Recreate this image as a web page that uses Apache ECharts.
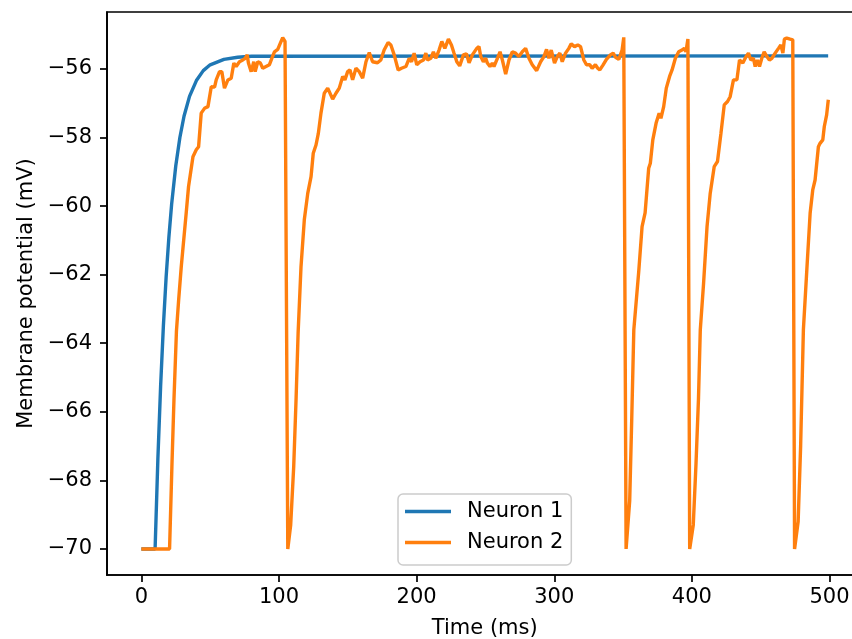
<!DOCTYPE html>
<html><head><meta charset="utf-8">
<script src="https://cdn.jsdelivr.net/npm/echarts@6/dist/echarts.min.js"></script>
<style>html,body{margin:0;padding:0;background:#fff}#c{width:852px;height:639px}</style>
</head><body><div id="c"></div>
<script>
const seriesNames = ['Neuron 1', 'Neuron 2'];
const xTicks = [0, 100, 200, 300, 400, 500];
const yTicks = [-70, -68, -66, -64, -62, -60, -58, -56];

const n1Time = [0, 10, 12, 14, 16, 18, 20, 22, 25, 28, 31, 35, 40, 45, 50, 60, 70, 80, 499];
const n1V = [-70, -70, -67.39, -65.26, -63.51, -62.08, -60.91, -59.95, -58.83, -58.00, -57.38, -56.80, -56.34, -56.05, -55.88, -55.72, -55.66, -55.63, -55.62];

const n2Time = [0,20.5,22.2,23.7,25.5,27.1,29,32.6,34.3,37.5,39.9,41.6,43.5,45.9,48.4,50.8,53.2,54.4,56.8,58.5,60.4,62.9,65.3,67.2,68.9,71.3,73.7,75.4,76.9,77.8,79.8,81.7,82.7,84.6,86.5,88.2,90.6,93,94.8,96.7,99.1,101,102.7,104.4,105.6,
106.4,107.2,108.5,110.7,112.4,113.9,116,118.4,120.9,123.3,124.9,126.9,128.6,130.5,132.9,135.4,139,141.4,143.8,146.3,147.9,149.9,151.6,153.5,155.9,158.3,160.8,163.2,165.6,168,171.6,174,176.4,179.3,181.3,183.7,186.6,189,192.2,194.6,196.3,198.2,200.1,202.5,205,206.7,207.9,210.3,212.2,213.9,216.3,218.3,220.5,223.1,225.3,227.2,229.2,231.3,234,236.2,238.1,240.5,243.7,245.3,246.6,248.5,250.2,251.4,253.3,255,256.2,258.7,260.6,262.3,264.7,267.1,269.5,271.9,274.3,276.8,279.2,281.6,284,287.2,290.1,292.5,294.4,296.1,297.8,300.2,302.2,304.1,305.8,308.2,310.6,312.3,314.7,317.1,319.1,321.5,323.4,325.8,327.5,329.9,331.6,333.1,335.5,337.9,340.8,342.8,344.5,346.9,349.3,350.5,351.2,
352.2,353.2,354.8,356.3,357.8,361.4,363.8,366,368.6,369.8,371.6,374,376.2,377.5,379.5,381.4,383.8,385.6,388,390.4,392.8,394.5,395.7,397.1,397.6,
398.4,399.4,401,403,404.8,406.1,408.5,411,413.3,416.2,418.6,421.1,423.5,425.9,427.8,430.2,432.7,434.6,437,439.4,441.1,442.8,444.7,446,447.6,449.1,450.8,452.5,454.5,456.3,458.1,460.5,462.9,464.6,466.1,467.2,468.9,471.4,473.3,473.8,
474.6,475.6,477.2,479,480,481,483.5,485.9,487.8,489.5,491.9,493.1,495.1,496.2,497.9,499.1];
const n2V = [-70,-70,-67.6,-65.65,-63.65,-62.74,-61.77,-60.2,-59.43,-58.56,-58.36,-58.27,-57.29,-57.15,-57.1,-56.52,-56.53,-56.32,-56.08,-56.08,-56.56,-56.32,-56.27,-55.83,-55.93,-55.79,-55.74,-55.69,-55.59,-55.83,-56.08,-55.79,-56.08,-55.79,-55.83,-55.98,-55.93,-55.88,-55.69,-55.5,-55.43,-55.25,-55.09,-55.2,-55.2,
-70,-70,-69.3,-67.6,-65.65,-63.7,-61.77,-60.4,-59.63,-59.14,-58.46,-58.22,-57.88,-57.29,-56.71,-56.56,-56.88,-56.71,-56.56,-56.22,-56.32,-56.08,-56.03,-56.32,-55.98,-56.08,-56.27,-55.79,-55.52,-55.79,-55.82,-55.74,-55.45,-55.23,-55.3,-55.59,-56.03,-55.98,-55.93,-55.69,-55.79,-55.54,-55.88,-55.79,-55.74,-55.54,-55.74,-55.69,-55.5,-55.69,-55.45,-55.2,-55.4,-55.13,-55.3,-55.54,-55.79,-55.91,-55.59,-55.56,-55.82,-55.59,-55.4,-55.35,-55.64,-55.79,-55.69,-55.83,-55.93,-55.83,-55.93,-55.69,-55.5,-55.74,-56.15,-55.74,-55.5,-55.54,-55.64,-55.5,-55.4,-55.69,-55.88,-56.05,-55.79,-55.64,-55.43,-55.69,-55.45,-55.83,-55.64,-55.54,-55.79,-55.54,-55.4,-55.27,-55.35,-55.3,-55.35,-55.74,-55.88,-55.88,-55.98,-55.88,-55.98,-56.03,-55.88,-55.72,-55.59,-55.54,-55.66,-55.72,-55.45,-55.08,-55.1,
-70,-70,-68.6,-66.2,-63.61,-61.9,-60.6,-60.2,-58.9,-58.75,-58.07,-57.58,-57.29,-57.44,-57.1,-56.56,-56.22,-56.03,-55.69,-55.5,-55.45,-55.4,-55.5,-55.13,-55.13,
-70,-70,-69.3,-67.5,-65.6,-63.61,-62.25,-60.6,-59.63,-58.85,-58.7,-57.88,-57.05,-56.95,-56.81,-56.32,-56.32,-55.74,-55.83,-55.64,-55.54,-55.74,-55.69,-55.93,-55.74,-55.93,-55.69,-55.5,-55.64,-55.74,-55.69,-55.54,-55.4,-55.3,-55.54,-55.13,-55.1,-55.13,-55.15,-55.15,
-70,-70,-69.2,-67,-65.3,-63.61,-61.86,-60.21,-59.53,-59.24,-58.27,-58.17,-58.07,-57.68,-57.34,-56.9];

const zip = (a, b) => a.map((v, i) => [v, b[i]]);
const FONT = 'DejaVu Sans';
const fmt = v => String(v).replace('-', '\u2212');

const chart = echarts.init(document.getElementById('c'), null, {renderer: 'canvas'});
chart.setOption({
  animation: false,
  backgroundColor: '#fff',
  textStyle: {fontFamily: FONT},
  grid: {left: 107, top: 12, width: 755.5, height: 563, show: true, borderColor: '#000', borderWidth: 1.7, backgroundColor: 'transparent', outerBoundsMode: 'none'},
  legend: {
    orient: 'vertical', left: 398, top: 494,
    data: seriesNames.map(n => ({name: n, icon: 'rect'})),
    itemWidth: 46, itemHeight: 3.4, itemGap: 10,
    padding: [7, 8, 12, 7],
    backgroundColor: 'rgba(255,255,255,0.8)', borderColor: '#cccccc', borderWidth: 1.5, borderRadius: 5,
    textStyle: {fontFamily: FONT, fontSize: 21, color: '#000', padding: [0, 0, 0, 11], lineHeight: 21}
  },
  xAxis: {
    type: 'value', min: -24.95, max: 523.95,
    name: 'Time (ms)', nameLocation: 'middle', nameGap: 43,
    nameTextStyle: {fontFamily: FONT, fontSize: 21, color: '#000'},
    axisLine: {show: true, onZero: false, lineStyle: {color: '#000', width: 1.7}},
    axisTick: {show: true, length: 7, lineStyle: {color: '#000', width: 1.7}, customValues: xTicks},
    axisLabel: {fontFamily: FONT, fontSize: 21, color: '#000', margin: 12, customValues: xTicks, formatter: fmt},
    splitLine: {show: false}
  },
  yAxis: {
    type: 'value', min: -70.76, max: -54.34,
    name: 'Membrane potential (mV)', nameLocation: 'middle', nameGap: 64,
    nameTextStyle: {fontFamily: FONT, fontSize: 21, color: '#000'},
    axisLine: {show: true, onZero: false, lineStyle: {color: '#000', width: 1.7}},
    axisTick: {show: true, length: 7, lineStyle: {color: '#000', width: 1.7}, customValues: yTicks},
    axisLabel: {fontFamily: FONT, fontSize: 21, color: '#000', margin: 15, customValues: yTicks, formatter: fmt},
    splitLine: {show: false}
  },
  series: [
    {name: seriesNames[0], type: 'line', data: zip(n1Time, n1V), symbol: 'none', smooth: false,
     lineStyle: {color: '#1f77b4', width: 3.4}, itemStyle: {color: '#1f77b4'}},
    {name: seriesNames[1], type: 'line', data: zip(n2Time, n2V), symbol: 'none', smooth: false,
     lineStyle: {color: '#ff7f0e', width: 3.4}, itemStyle: {color: '#ff7f0e'}}
  ]
});
</script></body></html>
